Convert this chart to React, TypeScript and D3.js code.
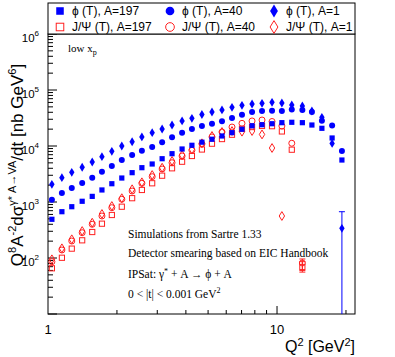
import React from "react";
import * as d3 from "d3";

// Q^2 bin centres [GeV^2]
const q2 = [1.04, 1.15, 1.27, 1.41, 1.56, 1.72, 1.9, 2.1, 2.33, 2.57, 2.85, 3.15, 3.48, 3.85, 4.25,
  4.7, 5.2, 5.75, 6.36, 7.03, 7.78, 8.6, 9.51, 10.5, 11.6, 12.9, 14.2, 15.7, 17.4, 19.2];

// phi (T)
const phiA1 = [2070, 2720, 3390, 4170, 5180, 6440, 8040, 10000, 11900, 14500, 17300, 20100, 23700, 28000, 31200,
  36500, 40500, 44000, 49100, 53300, 56200, 57900, 60300, 58600, 54000, 51800, 42200, 32500, 11100, 339];
const phiA40 = [1100, 1450, 1780, 2180, 2720, 3480, 4400, 5620, 6910, 8240, 9600, 11700, 14300, 17300, 20100,
  22800, 25000, 27600, 31600, 36200, 40500, 42200, 42700, 42200, 44900, 44000, 40500, 28300, 23200, 8140];
const phiA197 = [491, 671, 824, 1030, 1260, 1640, 2120, 2680, 3340, 4100, 4770, 5930, 7290, 8840, 10300,
  11700, 13200, 15100, 17300, 19900, 23000, 24000, 25000, 26100, 26500, 26100, 23700, 20700, 13900, 5620];

// J/Psi (T)
const jpsiA1 = [94.8, 149, 216, 303, 427, 611, 848, 1170, 1690, 2250, 3030, 4100, 5400, 6910, 8730,
  11200, 15100, 17800, 18500, 18000, 18500, 16100, 9210, 562];
const jpsiA40 = [85.9, 139, 201, 283, 400, 562, 791, 1120, 1570, 2160, 2830, 3880, 5030, 6630, 8380,
  10900, 14500, 17800, 21800, 25400, 28000, 29100, 27400, 22800, 11200, 81.4];
const jpsiA197 = [65.5, 101, 147, 207, 291, 410, 586, 824, 1170, 1640, 2160, 2950, 4000, 5240, 6630,
  8660, 11000, 13300, 15900, 20300, 21800, 22800, 22600, 18200, 8590, 69.1];

// visible error bars: [index, low, high]
const phiA1Err = [[29, 1, 671]];
const jpsiA40Err = [[25, 60, 96]];
const jpsiA197Err = [[25, 56, 86]];

const yDecades = [10, 100, 1000, 10000, 100000, 1000000];
const yLabelled = [100, 1000, 10000, 100000, 1000000];
const BLUE = "#0000ff";
const RED = "#ff2020";

const W = 395, H = 357;
const left = 48, right = 355, top = 34, bottom = 314;

const x = d3.scaleLog().domain([1, 21.9]).range([left, right]);
const y = d3.scaleLog().domain([10, 1e6]).range([bottom, top]);

type Shape = "square" | "circle" | "diamond";

function Marker({ cx, cy, shape, filled, color, s = 1 }: any) {
  const fill = filled ? color : "none";
  const sw = filled ? 0 : 1;
  if (shape === "square") {
    const h = 2.6 * s;
    return <rect x={cx - h} y={cy - h} width={2 * h} height={2 * h} fill={fill} stroke={color} strokeWidth={sw} />;
  }
  if (shape === "circle") {
    return <circle cx={cx} cy={cy} r={3 * s} fill={fill} stroke={color} strokeWidth={sw} />;
  }
  const w = 2.7 * s, h = 4.4 * s;
  return <path d={`M${cx},${cy - h}L${cx + w},${cy}L${cx},${cy + h}L${cx - w},${cy}Z`} fill={fill} stroke={color} strokeWidth={sw} />;
}

function Series({ vals, shape, filled, color, errs }: any) {
  return (
    <g>
      {errs.map(([i, lo, hi]: number[]) => (
        <g key={"e" + i} stroke={color} strokeWidth={1}>
          <line x1={x(q2[i])} x2={x(q2[i])} y1={y(Math.max(lo, 10))} y2={y(hi)} />
          <line x1={x(q2[i]) - 3} x2={x(q2[i]) + 3} y1={y(hi)} y2={y(hi)} />
          {lo > 10 && <line x1={x(q2[i]) - 3} x2={x(q2[i]) + 3} y1={y(lo)} y2={y(lo)} />}
        </g>
      ))}
      {vals.map((v: number, i: number) => (
        <Marker key={i} cx={x(q2[i])} cy={y(v)} shape={shape} filled={filled} color={color} />
      ))}
    </g>
  );
}

const legend = [
  { label: "\u03d5 (T), A=197", shape: "square", filled: true, color: BLUE },
  { label: "\u03d5 (T), A=40", shape: "circle", filled: true, color: BLUE },
  { label: "\u03d5 (T), A=1", shape: "diamond", filled: true, color: BLUE },
  { label: "J/\u03a8 (T), A=197", shape: "square", filled: false, color: RED },
  { label: "J/\u03a8 (T), A=40", shape: "circle", filled: false, color: RED },
  { label: "J/\u03a8 (T), A=1", shape: "diamond", filled: false, color: RED },
];
const legendCols = [60, 170, 274];
const legendRows = [11, 27];

export default function App() {
  const yMinor: number[] = [];
  yDecades.slice(0, -1).forEach((d) => {
    for (let k = 2; k <= 9; k++) yMinor.push(d * k);
  });
  const xMinor = [2, 3, 4, 5, 6, 7, 8, 9, 20];
  const sans = "Liberation Sans, Arial, sans-serif";
  const serif = "Liberation Serif, Times New Roman, serif";

  return (
    <svg width={W} height={H} style={{ position: "absolute", left: 0, top: 0 }}>
      <rect width={W} height={H} fill="#fff" />
      <defs>
        <clipPath id="plot">
          <rect x={left} y={top} width={right - left} height={bottom - top} />
        </clipPath>
      </defs>

      {/* frame */}
      <rect x={left} y={top} width={right - left} height={bottom - top} fill="none" stroke="#000" strokeWidth={1} />

      {/* y ticks */}
      {yDecades.map((d) => (
        <line key={"ym" + d} x1={left} x2={left + 9} y1={y(d)} y2={y(d)} stroke="#000" />
      ))}
      {yMinor.map((d) => (
        <line key={"yn" + d} x1={left} x2={left + 5} y1={y(d)} y2={y(d)} stroke="#000" />
      ))}
      {yLabelled.map((d) => (
        <text key={"yl" + d} x={39} y={y(d) + 8} fontFamily={sans} fontSize={11.5} textAnchor="end">
          10
          <tspan fontSize={8} dy={-6}>{Math.round(Math.log10(d))}</tspan>
        </text>
      ))}

      {/* x ticks */}
      <line x1={x(10)} x2={x(10)} y1={bottom} y2={bottom - 8} stroke="#000" />
      {xMinor.map((d) => (
        <line key={"xn" + d} x1={x(d)} x2={x(d)} y1={bottom} y2={bottom - 4} stroke="#000" />
      ))}
      <text x={x(1)} y={334} fontFamily={sans} fontSize={13} textAnchor="middle">1</text>
      <text x={x(10)} y={334} fontFamily={sans} fontSize={13} textAnchor="middle">10</text>

      {/* data */}
      <g clipPath="url(#plot)">
        <Series vals={jpsiA197} shape="square" filled={false} color={RED} errs={jpsiA197Err} />
        <Series vals={jpsiA40} shape="circle" filled={false} color={RED} errs={jpsiA40Err} />
        <Series vals={jpsiA1} shape="diamond" filled={false} color={RED} errs={[]} />
        <Series vals={phiA197} shape="square" filled={true} color={BLUE} errs={[]} />
        <Series vals={phiA40} shape="circle" filled={true} color={BLUE} errs={[]} />
        <Series vals={phiA1} shape="diamond" filled={true} color={BLUE} errs={phiA1Err} />
      </g>

      {/* legend */}
      <rect x={left} y={3} width={right - left} height={top - 3} fill="#fff" stroke="#000" />
      {legend.map((l, i) => {
        const cx = legendCols[i % 3];
        const cy = legendRows[Math.floor(i / 3)];
        return (
          <g key={l.label}>
            <Marker cx={cx} cy={cy} shape={l.shape as Shape} filled={l.filled} color={l.color} s={1.45} />
            <text x={cx + 12} y={cy + 4} fontFamily={sans} fontSize={12}>{l.label}</text>
          </g>
        );
      })}

      {/* annotations */}
      <text x={68} y={52} fontFamily={serif} fontSize={11}>
        low x<tspan fontSize={8} dy={3}>p</tspan>
      </text>
      <g fontFamily={serif} fontSize={11.5}>
        <text x={128} y={238}>Simulations from Sartre 1.33</text>
        <text x={128} y={257}>Detector smearing based on EIC Handbook</text>
        <text x={128} y={278}>
          IPSat:  {"\u03b3"}<tspan fontSize={8} dy={-4}>*</tspan><tspan dy={4}> + A  {"\u2192"}  {"\u03d5"} + A</tspan>
        </text>
        <text x={128} y={298}>
          0 {"<"} |t| {"<"} 0.001 GeV<tspan fontSize={8} dy={-5}>2</tspan>
        </text>
      </g>

      {/* axis titles */}
      <text x={355} y={352} fontFamily={sans} fontSize={16} textAnchor="end">
        Q<tspan fontSize={11} dy={-6}>2</tspan><tspan dy={6}> [GeV</tspan><tspan fontSize={11} dy={-6}>2</tspan><tspan dy={6}>]</tspan>
      </text>
      <text transform="translate(23,165) rotate(-90)" fontFamily={sans} fontSize={17} textAnchor="middle">
        Q<tspan fontSize={11} dy={-7}>8</tspan>
        <tspan dy={7}>A</tspan><tspan fontSize={11} dy={-7}>-2</tspan>
        <tspan dy={7}>d{"\u03c3"}</tspan><tspan fontSize={11} dy={-7}>{"\u03b3* A\u2192VA"}</tspan>
        <tspan dy={7}>/dt  [nb GeV</tspan><tspan fontSize={11} dy={-7}>6</tspan><tspan dy={7}>]</tspan>
      </text>
    </svg>
  );
}
